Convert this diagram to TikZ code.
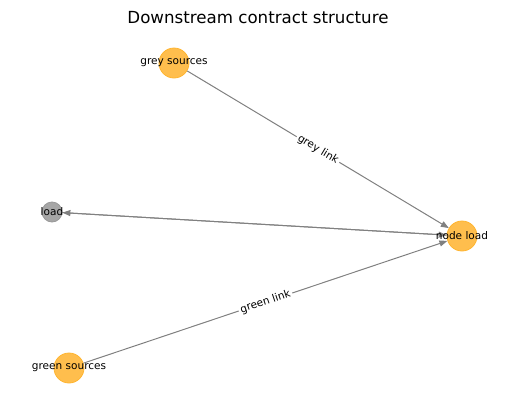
\documentclass[tikz,border=0pt]{standalone}
\usepackage{fontspec}
\setmainfont{DejaVu Sans}
\usetikzlibrary{arrows.meta}
\definecolor{nodeorange}{HTML}{FFBE4D}
\definecolor{nodeorangeedge}{HTML}{FFB530}
\definecolor{nodegrey}{HTML}{A6A6A6}
\definecolor{nodegreyedge}{HTML}{999999}
\definecolor{edgegrey}{HTML}{808080}
\begin{document}
\begin{tikzpicture}[x=0.75pt,y=-0.75pt,
  bignode/.style={circle,fill=nodeorange,draw=nodeorangeedge,line width=0.6pt,minimum size=22.5pt,inner sep=0pt},
  smallnode/.style={circle,fill=nodegrey,draw=nodegreyedge,line width=0.6pt,minimum size=15pt,inner sep=0pt},
  nodetext/.style={font=\fontsize{7.9}{9}\selectfont,inner sep=0pt},
  link/.style={draw=edgegrey,line width=0.75pt,-{Stealth[length=6pt,width=4.5pt,inset=0pt]}},
  linklabel/.style={midway,sloped,fill=white,inner sep=1.5pt,font=\fontsize{7.9}{9}\selectfont}]
\useasboundingbox (0,0) rectangle (515,411);
\node[font=\fontsize{12.5}{15}\selectfont] (title) at (258,18) {Downstream contract structure};
\node[bignode] (gs) at (174,63) {};
\node[smallnode] (ld) at (52,212) {};
\node[bignode] (nl) at (462,236) {};
\node[bignode] (gr) at (69,368) {};
\draw[link] (gs) -- (nl) node[linklabel] {grey link};
\draw[link] (gr) -- (nl) node[linklabel] {green link};
\draw[link] (ld) -- (nl);
\draw[link] (nl) -- (ld);
\node[nodetext] (gst) at (gs.center) {grey sources};
\node[nodetext] (ldt) at (ld.center) {load};
\node[nodetext] (nlt) at (nl.center) {node load};
\node[nodetext] (grt) at (gr.center) {green sources};
\end{tikzpicture}
\end{document}
